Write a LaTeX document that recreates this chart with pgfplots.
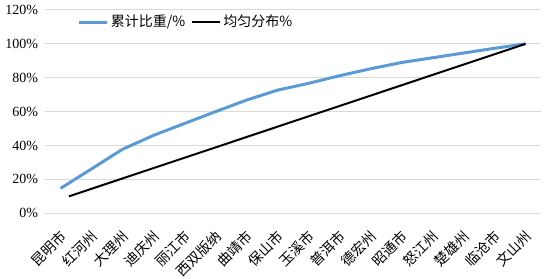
\documentclass[border=0pt]{standalone}
\usepackage{fontspec}
\setmainfont{Liberation Serif}
\newfontfamily\cjk{Noto Sans CJK SC}
\usepackage{pgfplots}
\pgfplotsset{compat=1.18}
\definecolor{exblue}{HTML}{5B9BD5}
\definecolor{gridgray}{HTML}{D9D9D9}
\begin{document}
\fontsize{14bp}{16bp}\selectfont
\begin{tikzpicture}
\path[use as bounding box] (-45bp,-65.7bp) rectangle (502bp,213.3bp);
\begin{axis}[at={(0,0)}, anchor=south west, scale only axis,
  width=496bp, height=203.3bp,
  xmin=-0.5, xmax=15.5, ymin=0, ymax=1.2,
  axis line style={draw=none}, major tick length=0pt,
  ymajorgrids, grid style={gridgray, line width=1bp},
  ytick={0,0.2,0.4,0.6,0.8,1.0,1.2},
  yticklabels={0\%,20\%,40\%,60\%,80\%,100\%,120\%},
  yticklabel style={font=\fontsize{14bp}{16bp}\selectfont, xshift=-2bp},
  xtick={0,1,...,15},
  xticklabels={昆明市,红河州,大理州,迪庆州,丽江市,西双版纳,曲靖市,保山市,玉溪市,普洱市,德宏州,昭通市,怒江州,楚雄州,临沧市,文山州},
  xticklabel style={font=\cjk\fontsize{14bp}{16bp}\selectfont, rotate=45, anchor=east, inner sep=0bp, xshift=-12.5bp, yshift=-16.5bp},
  legend style={at={(0.06,0.995)}, anchor=north west, draw=none, fill=none,
    font=\cjk\fontsize{14bp}{16bp}\selectfont, legend columns=2,
    /tikz/every even column/.append style={column sep=4bp}},
  legend cell align=left,
  legend image code/.code={\draw[#1] (0bp,0bp) -- (28bp,0bp);},
]
\addplot[exblue, line width=3bp, line join=round] coordinates {
(0,0.147) (1,0.262) (2,0.378) (3,0.460) (4,0.530) (5,0.600) (6,0.668) (7,0.727)
(8,0.767) (9,0.812) (10,0.853) (11,0.890) (12,0.918) (13,0.946) (14,0.974) (15,1.000)};
\addlegendentry{累计比重/\%}
\addplot[black, line width=2bp] coordinates {(0.27,0.10) (15,1.00)};
\addlegendentry{均匀分布\%}
\end{axis}
\end{tikzpicture}
\end{document}
